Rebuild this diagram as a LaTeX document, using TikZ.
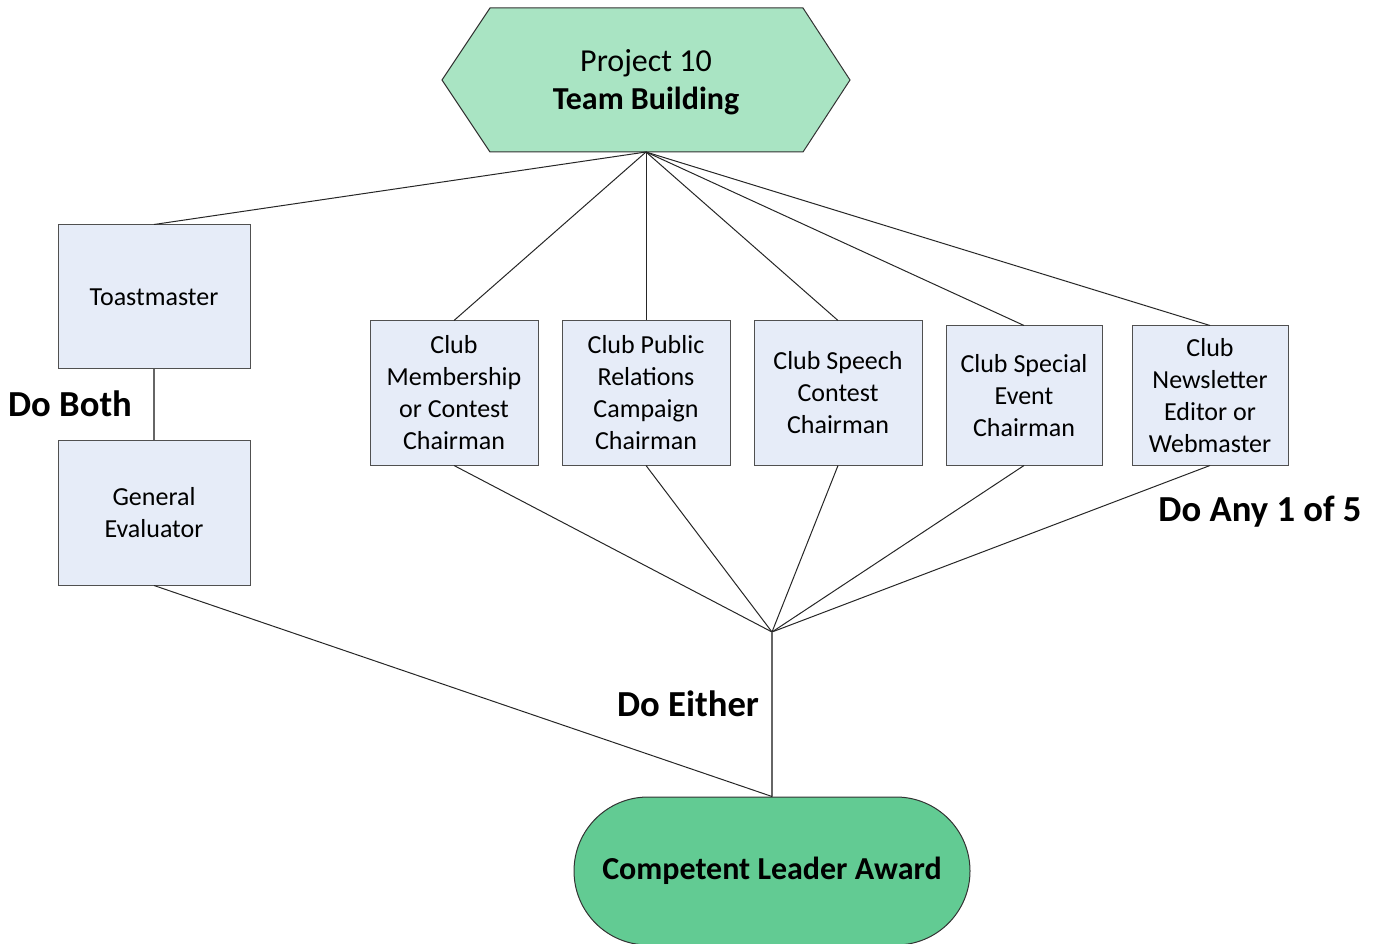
\documentclass[tikz,border=0pt]{standalone}
\usepackage{fontspec}
\setmainfont{Carlito}
\usetikzlibrary{shapes.misc}
\definecolor{hexfill}{HTML}{A9E4C3}
\definecolor{awardfill}{HTML}{62CB93}
\definecolor{boxfill}{HTML}{E6ECF8}
\definecolor{edge}{HTML}{505050}
\tikzset{
  rolebox/.style={draw=edge, fill=boxfill, line width=0.75pt, inner sep=0pt, align=center,
    font=\fontsize{19.5pt}{24pt}\selectfont},
  wide/.style={minimum width=144pt, minimum height=108pt},
  mid/.style={minimum width=126pt, minimum height=108pt},
  narrow/.style={minimum width=117pt, minimum height=104.25pt},
  link/.style={draw=black!85, line width=0.75pt},
  vlink/.style={draw=black!60, line width=1pt},
  lab/.style={font=\fontsize{27.5pt}{32pt}\selectfont\bfseries, inner sep=0pt}
}
\begin{document}
\begin{tikzpicture}[x=0.75pt, y=-0.75pt]
\useasboundingbox (0,0) rectangle (1377,944);
% hexagon
\draw[draw=black!80, fill=hexfill, line width=0.75pt]
  (490,8) -- (803,8) -- (850,80) -- (803,152) -- (490,152) -- (442,80) -- cycle;
\node[align=center, inner sep=0pt, font=\fontsize{24pt}{28.5pt}\selectfont] (hex) at (646,82)
  {Project 10\\\textbf{Team Building}};
\coordinate (hexb) at (646,152);
% boxes
\node[rolebox, wide] (toast) at (154,297) {Toastmaster};
\node[rolebox, wide] (ge) at (154,513) {General\\Evaluator};
\node[rolebox, mid] (memb) at (454,393) {Club\\Membership\\or Contest\\Chairman};
\node[rolebox, mid] (pr) at (646,393) {Club Public\\Relations\\Campaign\\Chairman};
\node[rolebox, mid] (speech) at (838,393) {Club Speech\\Contest\\Chairman};
\node[rolebox, narrow] (event) at (1024,395.5) {Club Special\\Event\\Chairman};
\node[rolebox, narrow] (news) at (1210,395.5) {Club\\Newsletter\\Editor or\\Webmaster};
% award
\node[rounded rectangle, draw=black!80, fill=awardfill, line width=0.75pt,
  minimum width=297pt, minimum height=111pt, inner sep=0pt,
  font=\fontsize{24pt}{28pt}\selectfont\bfseries] (award) at (772,871) {Competent Leader Award};
\coordinate (j) at (772,632);
% connectors
\foreach \n in {toast, memb, pr, speech, event, news}
  \draw[link] (hexb) -- (\n.north);
\draw[vlink] (toast.south) -- (ge.north);
\foreach \n in {memb, pr, speech, event, news}
  \draw[link] (\n.south) -- (j);
\draw[vlink] (j) -- (award.north);
\draw[link] (ge.south) -- (award.north);
% labels
\node[lab] (both) at (70,404) {Do Both};
\node[lab] (any) at (1260,512) {Do Any 1 of 5};
\node[lab] (either) at (688,704) {Do Either};
\end{tikzpicture}
\end{document}
